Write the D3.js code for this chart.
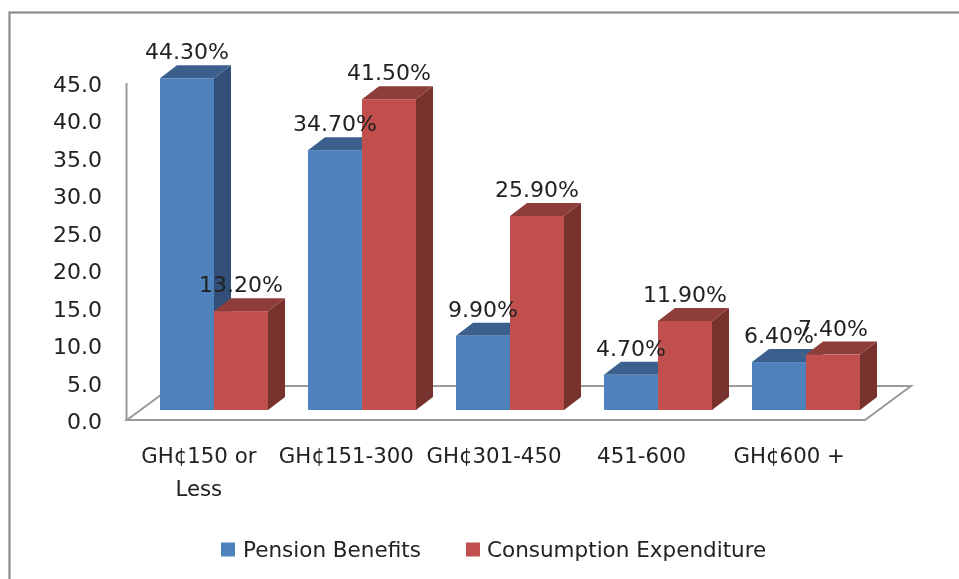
<!DOCTYPE html>
<html><head><meta charset="utf-8">
<style>html,body{margin:0;padding:0;background:#fff}svg{display:block}text{font-family:"DejaVu Sans",sans-serif;fill:#222}</style>
<script src="https://cdn.jsdelivr.net/npm/d3@7/dist/d3.min.js"></script></head>
<body><svg id="c" width="959" height="579"></svg>
<script>
const categories=[["GH¢150 or","Less"],["GH¢151-300"],["GH¢301-450"],["451-600"],["GH¢600 +"]];
const seriesNames=["Pension Benefits","Consumption Expenditure"];
const pension=[44.3,34.7,9.9,4.7,6.4];
const consumption=[13.2,41.5,25.9,11.9,7.4];
const yTicks=[0,5,10,15,20,25,30,35,40,45];
const colors=[{f:"#4f81bd",t:"#3b618e",s:"#30507a"},{f:"#c0504d",t:"#8f3c3a",s:"#78302e"}];

const svg=d3.select("#c");
svg.append("defs").append("filter").attr("id","soft").attr("x",0).attr("y",0).attr("width",1).attr("height",1)
  .attr("filterUnits","userSpaceOnUse").attr("x",0).attr("y",0).attr("width",959).attr("height",579)
  .append("feGaussianBlur").attr("stdDeviation",0.45);
const root=svg.append("g").attr("filter","url(#soft)");
root.append("rect").attr("width",959).attr("height",579).attr("fill","#fff");
root.append("rect").attr("x",9.5).attr("y",12.5).attr("width",990).attr("height",600).attr("fill","#fff").attr("stroke","#8c8c8c").attr("stroke-width",2.2);

const y=d3.scaleLinear().domain([0,45]).range([420,83]);
const x=d3.scaleBand().domain(d3.range(5)).range([140,880]).paddingInner(0).paddingOuter(0);
const barW=54, floorLift=10, dx=17, dy=13;
const axisCol="#9a9a9a";
root.append("path").attr("d","M127,420 L865,420 L911,386 L173,386 Z").attr("fill","#fff").attr("stroke",axisCol).attr("stroke-width",2);
root.append("line").attr("x1",126.5).attr("x2",126.5).attr("y1",y(45)).attr("y2",y(0)).attr("stroke",axisCol).attr("stroke-width",2);

root.append("g").selectAll("text").data(yTicks).join("text")
 .attr("x",102).attr("y",d=>y(d)+9).attr("text-anchor","end").attr("font-size",22)
 .text(d=>d.toFixed(1));

const rows=[pension,consumption];
const labels=[];
d3.range(5).forEach(i=>{
  const gx=x(i)+x.bandwidth()/2;
  rows.forEach((vals,s)=>{
    const x0=gx-barW+s*barW, v=vals[i], top=y(v)-floorLift, bot=y(0)-floorLift, c=colors[s];
    const g=root.append("g");
    g.append("path").attr("fill",c.s).attr("d",`M${x0+barW},${top} l${dx},${-dy} L${x0+barW+dx},${bot-dy} L${x0+barW},${bot} Z`);
    g.append("path").attr("fill",c.t).attr("d",`M${x0},${top} l${dx},${-dy} h${barW} l${-dx},${dy} Z`);
    g.append("rect").attr("x",x0).attr("y",top).attr("width",barW).attr("height",bot-top).attr("fill",c.f);
    labels.push({x:x0+27,y:top-dy-6,t:v.toFixed(2)+"%"});
  });
});
root.append("g").selectAll("text").data(labels).join("text")
 .attr("x",d=>d.x).attr("y",d=>d.y).attr("text-anchor","middle").attr("font-size",22).text(d=>d.t);

const cx=d3.scaleBand().domain(d3.range(5)).range([127,865]);
const ct=root.append("g").selectAll("text").data(categories).join("text").attr("text-anchor","middle").attr("font-size",21.3);
ct.each(function(d,i){
  d3.select(this).selectAll("tspan").data(d).join("tspan")
   .attr("x",cx(i)+cx.bandwidth()/2-2).attr("y",(l,j)=>463+j*33).text(l=>l);
});
const lx=[221,466], lt=[243,487];
seriesNames.forEach((n,i)=>{
  root.append("rect").attr("x",lx[i]).attr("y",542.5).attr("width",14).attr("height",14).attr("fill",colors[i].f);
  root.append("text").attr("x",lt[i]).attr("y",557).attr("font-size",21.5).text(n);
});
</script></body></html>
